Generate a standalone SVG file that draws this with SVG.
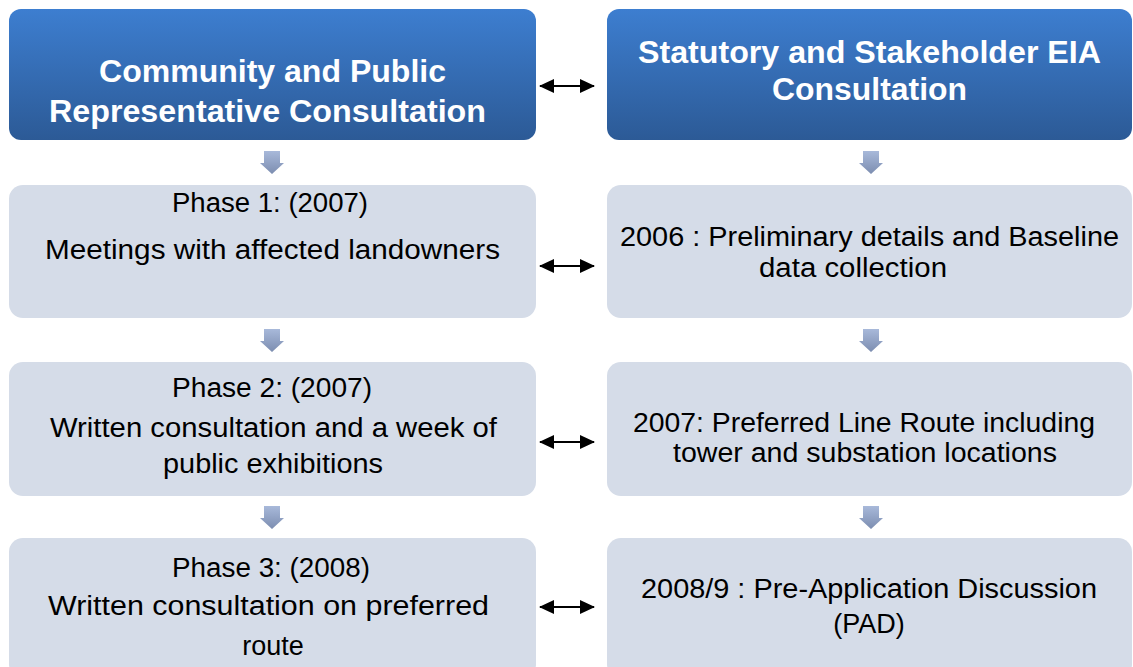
<svg xmlns="http://www.w3.org/2000/svg" width="1133" height="667" viewBox="0 0 1133 667">
<defs>
<linearGradient id="hdr" x1="0" y1="0" x2="0" y2="1">
<stop offset="0" stop-color="#3d7ed0"/>
<stop offset="1" stop-color="#2c5a96"/>
</linearGradient>
<linearGradient id="dn" x1="0" y1="0" x2="0" y2="1">
<stop offset="0" stop-color="#a8b9da"/>
<stop offset="1" stop-color="#7c8db0"/>
</linearGradient>
<marker id="ah" viewBox="0 0 15 14" refX="14" refY="7" markerWidth="15" markerHeight="14" markerUnits="userSpaceOnUse" orient="auto-start-reverse">
<path d="M0,0 L15,7 L0,14 Z" fill="#000"/>
</marker>
<path id="darrow" d="M-8,0 H8 V12 H12 L0,23 L-12,12 H-8 Z"/>
</defs>
<style>
.hdr{fill:url(#hdr)}
.box{fill:#d5dce8}
.ht{font-family:"Liberation Sans",Arial,sans-serif;font-weight:bold;font-size:31px;fill:#fff}
.bt{font-family:"Liberation Sans",Arial,sans-serif;font-size:27px;fill:#000}
.mid{text-anchor:middle}
.dbl{stroke:#000;stroke-width:2.2;fill:none;marker-start:url(#ah);marker-end:url(#ah)}
.down{fill:url(#dn)}
</style>
<rect width="1133" height="667" fill="#fff"/>
<g id="h-left">
<rect class="hdr" x="9" y="9" width="527" height="131" rx="12"/>
<text class="ht" x="99" y="82" textLength="347" lengthAdjust="spacingAndGlyphs">Community and Public</text>
<text class="ht" x="49" y="122" textLength="437" lengthAdjust="spacingAndGlyphs">Representative Consultation</text>
</g>
<g id="h-right">
<rect class="hdr" x="607" y="9" width="525" height="131" rx="12"/>
<text class="ht" x="638" y="63" textLength="463" lengthAdjust="spacingAndGlyphs">Statutory and Stakeholder EIA</text>
<text class="ht" x="772" y="100" textLength="195" lengthAdjust="spacingAndGlyphs">Consultation</text>
</g>
<g id="phase1">
<rect class="box" x="9" y="185" width="527" height="133" rx="14"/>
<text class="bt" x="172" y="212" textLength="196" lengthAdjust="spacingAndGlyphs">Phase 1: (2007)</text>
<text class="bt" x="45" y="259" textLength="455" lengthAdjust="spacingAndGlyphs">Meetings with affected landowners</text>
</g>
<g id="eia2006">
<rect class="box" x="607" y="185" width="525" height="133" rx="14"/>
<text class="bt" x="620" y="246" textLength="499" lengthAdjust="spacingAndGlyphs">2006 : Preliminary details and Baseline</text>
<text class="bt" x="759" y="277" textLength="188" lengthAdjust="spacingAndGlyphs">data collection</text>
</g>
<g id="phase2">
<rect class="box" x="9" y="362" width="527" height="134" rx="14"/>
<text class="bt" x="172" y="397" textLength="200" lengthAdjust="spacingAndGlyphs">Phase 2: (2007)</text>
<text class="bt" x="50" y="437" textLength="447" lengthAdjust="spacingAndGlyphs">Written consultation and a week of</text>
<text class="bt" x="163" y="473" textLength="220" lengthAdjust="spacingAndGlyphs">public exhibitions</text>
</g>
<g id="eia2007">
<rect class="box" x="607" y="362" width="525" height="134" rx="14"/>
<text class="bt" x="633" y="432" textLength="462" lengthAdjust="spacingAndGlyphs">2007: Preferred Line Route including</text>
<text class="bt" x="673" y="462" textLength="384" lengthAdjust="spacingAndGlyphs">tower and substation locations</text>
</g>
<g id="phase3">
<rect class="box" x="9" y="538" width="527" height="140" rx="14"/>
<text class="bt" x="172" y="577" textLength="198" lengthAdjust="spacingAndGlyphs">Phase 3: (2008)</text>
<text class="bt" x="48" y="615" textLength="441" lengthAdjust="spacingAndGlyphs">Written consultation on preferred</text>
<text class="bt mid" x="273" y="655">route</text>
</g>
<g id="pad">
<rect class="box" x="607" y="538" width="525" height="140" rx="14"/>
<text class="bt" x="641" y="598" textLength="456" lengthAdjust="spacingAndGlyphs">2008/9 : Pre-Application Discussion</text>
<text class="bt mid" x="869" y="633">(PAD)</text>
</g>
<g id="connectors">
<use href="#darrow" class="down" x="272" y="151"/>
<use href="#darrow" class="down" x="871" y="151"/>
<use href="#darrow" class="down" x="272" y="329"/>
<use href="#darrow" class="down" x="871" y="329"/>
<use href="#darrow" class="down" x="272" y="506"/>
<use href="#darrow" class="down" x="871" y="506"/>
<line class="dbl" x1="540" y1="86" x2="594" y2="86"/>
<line class="dbl" x1="540" y1="266" x2="594" y2="266"/>
<line class="dbl" x1="540" y1="442" x2="594" y2="442"/>
<line class="dbl" x1="540" y1="607" x2="594" y2="607"/>
</g>
</svg>
